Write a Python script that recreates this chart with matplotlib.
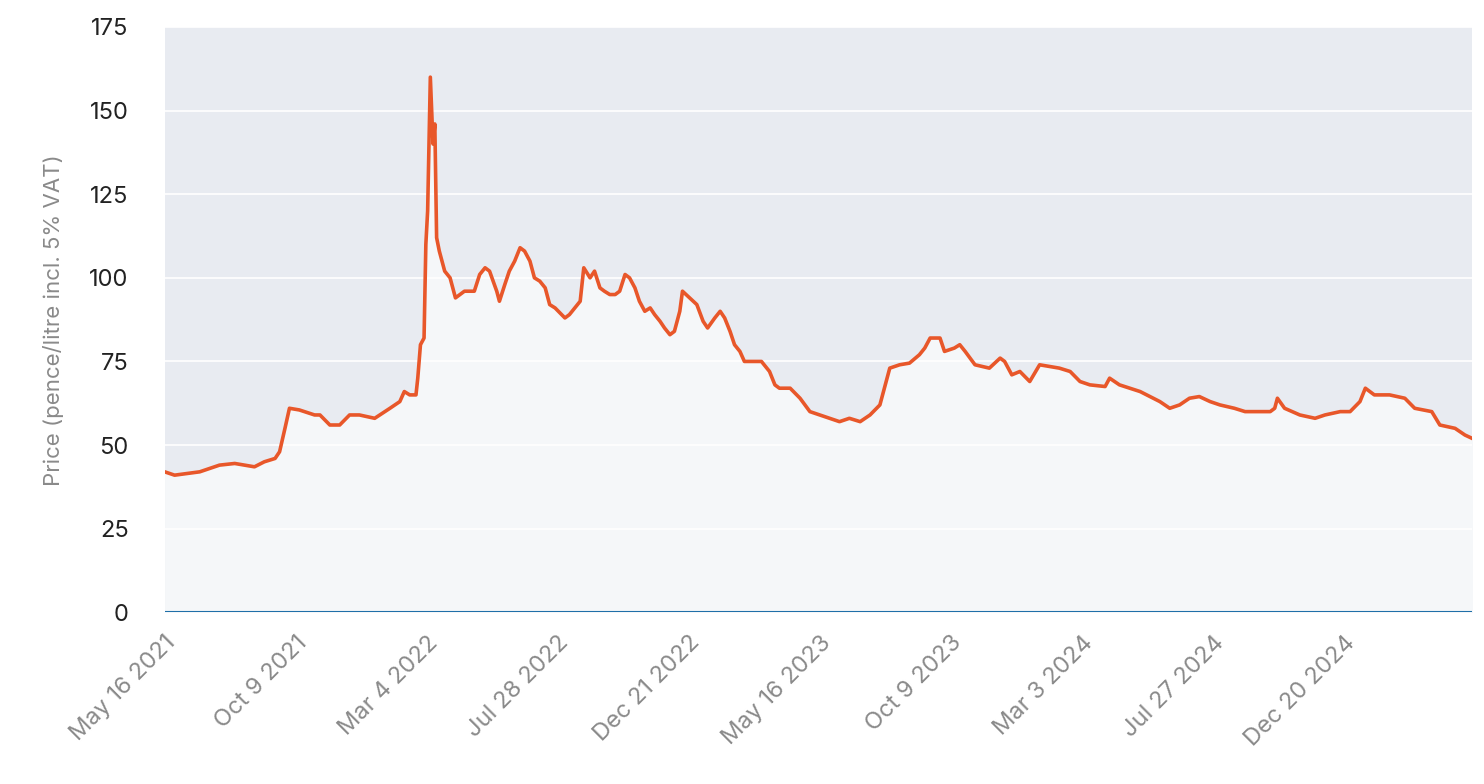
import datetime as dt
import matplotlib
matplotlib.use("Agg")
import matplotlib.pyplot as plt

plt.rcParams["font.family"] = "Inter"

start = dt.date(2021, 5, 16)
# days since May 16 2021 -> price (pence/litre incl. 5% VAT)
days = [0, 11, 39, 61, 78, 100, 111, 123, 128, 134, 139, 150, 167, 173, 184, 195, 206, 217, 234, 251,
        262, 267, 273, 280, 282, 285, 289, 291, 293, 296, 299, 301, 303, 306, 312, 318, 324, 334, 345, 351,
        357, 362, 370, 373, 379, 384, 390, 396, 401, 407, 412, 418, 424, 429, 435, 446, 451, 463, 467, 474,
        479, 485, 490, 496, 502, 507, 513, 518, 524, 529, 535, 541, 546, 552, 557, 563, 568, 574, 577, 585,
        593, 600, 605, 613, 619, 624, 630, 635, 641, 646, 658, 665, 674, 680, 685, 697, 708, 719, 730, 741,
        752, 763, 775, 786, 797, 802, 808, 819, 830, 841, 847, 853, 864, 869, 880, 886, 892, 903, 919, 931,
        936, 944, 953, 964, 975, 986, 997, 1009, 1020, 1031, 1048, 1053, 1064, 1087, 1109, 1120, 1131, 1142, 1153, 1165,
        1176, 1192, 1204, 1220, 1232, 1237, 1240, 1248, 1265, 1282, 1293, 1310, 1321, 1332, 1338, 1348, 1365, 1382, 1393, 1412,
        1421, 1438, 1449, 1457]
price = [42, 41, 42, 44, 44.5, 43.5, 45, 46, 48, 55, 61, 60.5, 59, 59, 56, 56, 59, 59, 58, 61,
         63, 66, 65, 65, 70, 80, 82, 110, 120, 160, 140, 146, 112, 108, 102, 100, 94, 96, 96, 101,
         103, 102, 96, 93, 98, 102, 105, 109, 108, 105, 100, 99, 97, 92, 91, 88, 89, 93, 103, 100,
         102, 97, 96, 95, 95, 96, 101, 100, 97, 93, 90, 91, 89, 87, 85, 83, 84, 90, 96, 94,
         92, 87, 85, 88, 90, 88, 84, 80, 78, 75, 75, 75, 72, 68, 67, 67, 64, 60, 59, 58,
         57, 58, 57, 59, 62, 67, 73, 74, 74.5, 77, 79, 82, 82, 78, 79, 80, 78, 74, 73, 76,
         75, 71, 72, 69, 74, 73.5, 73, 72, 69, 68, 67.5, 70, 68, 66, 63, 61, 62, 64, 64.5, 63,
         62, 61, 60, 60, 60, 61, 64, 61, 59, 58, 59, 60, 60, 63, 67, 65, 65, 64, 61, 60,
         56, 55, 53, 52]
yticks = [0, 25, 50, 75, 100, 125, 150, 175]

dates = [start + dt.timedelta(days=d) for d in days]
tick_dates = [start + dt.timedelta(days=146 * i) for i in range(10)]

fig = plt.figure(figsize=(14.84, 7.84), dpi=100)
ax = fig.add_axes([0.111, 0.219, 0.881, 0.7466])
ax.set_facecolor("#e8ebf1")
ax.fill_between(dates, price, 0, color="#f5f7f9", zorder=1)
ax.plot(dates, price, color="#e8572a", lw=2.6, zorder=3)
ax.axhline(0, color="#1f6fa8", lw=1.5, zorder=4)

ax.set_xlim(dates[0], dates[-1])
ax.set_ylim(0, 175)
ax.set_yticks(yticks)
ax.grid(axis="y", color="white", lw=1.2, zorder=2)
ax.set_axisbelow(False)
for s in ax.spines.values():
    s.set_visible(False)
ax.set_xticks(tick_dates)
ax.set_xticklabels([f"{d:%b} {d.day} {d.year}" for d in tick_dates],
                   rotation=45, ha="right", rotation_mode="anchor", color="#8a8a8a", fontsize=17)
ax.tick_params(axis="y", length=0, labelsize=17, labelcolor="#222222", pad=26)
ax.tick_params(axis="x", length=0, pad=14)
ax.set_ylabel("Price (pence/litre incl. 5% VAT)", color="#8a8a8a", fontsize=16, labelpad=18)

fig.savefig("out.png", dpi=100)
